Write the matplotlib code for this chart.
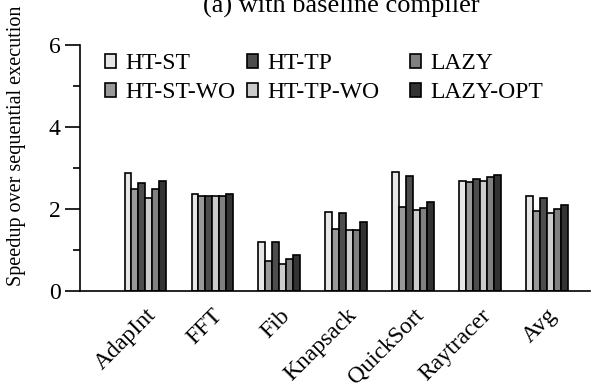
import numpy as np
import matplotlib
matplotlib.use("Agg")
import matplotlib.pyplot as plt
from matplotlib.ticker import MultipleLocator

plt.rcParams['font.family'] = ['Liberation Serif', 'DejaVu Serif']

benchmarks = ["AdapInt", "FFT", "Fib", "Knapsack", "QuickSort", "Raytracer", "Avg"]
ht_st = [2.89, 2.37, 1.19, 1.93, 2.90, 2.69, 2.33]
ht_st_wo = [2.50, 2.33, 0.72, 1.51, 2.05, 2.66, 1.96]
ht_tp = [2.63, 2.33, 1.20, 1.91, 2.80, 2.74, 2.27]
ht_tp_wo = [2.28, 2.33, 0.67, 1.50, 1.97, 2.68, 1.91]
lazy = [2.50, 2.33, 0.79, 1.50, 2.03, 2.77, 1.99]
lazy_opt = [2.68, 2.36, 0.89, 1.69, 2.17, 2.83, 2.10]

series = [
    ("HT-ST", ht_st, "#e6e6e6"),
    ("HT-ST-WO", ht_st_wo, "#999999"),
    ("HT-TP", ht_tp, "#4d4d4d"),
    ("HT-TP-WO", ht_tp_wo, "#cccccc"),
    ("LAZY", lazy, "#808080"),
    ("LAZY-OPT", lazy_opt, "#333333"),
]

fs = 17
W, H = 597, 389
fig = plt.figure(figsize=(W / 100, H / 100), dpi=100)
ax = fig.add_axes([0.134, 0.252, 0.854, 0.632])

x = np.arange(len(benchmarks))
w = 0.103
bars = []
for i, (name, vals, col) in enumerate(series):
    b = ax.bar(x + (i - 2.5) * w, vals, w, color=col, edgecolor="black",
               linewidth=1.2, label=name)
    bars.append(b)

ax.set_xlim(-0.975, 6.64)
ax.set_ylim(0, 6)
ax.yaxis.set_major_locator(MultipleLocator(2))
ax.yaxis.set_minor_locator(MultipleLocator(1))
ax.tick_params(axis="y", which="major", length=11, width=1.2, labelsize=fs, direction="out", pad=3)
ax.tick_params(axis="y", which="minor", length=5, width=1.2, direction="out")
ax.tick_params(axis="x", length=0, labelsize=fs, pad=10)
ax.set_xticks(x)
ax.set_xticklabels(benchmarks, rotation=45, ha="right", rotation_mode="anchor")
for s in ["top", "right"]:
    ax.spines[s].set_visible(False)
for s in ["left", "bottom"]:
    ax.spines[s].set_linewidth(1.2)

# one legend per column so each column can sit at its own x
col_x = [105, 247, 410]
for c in range(3):
    leg = ax.legend(bars[2 * c:2 * c + 2], [series[2 * c][0], series[2 * c + 1][0]],
                    loc="upper left", bbox_to_anchor=(col_x[c] / W, 1 - 53 / H),
                    bbox_transform=fig.transFigure, frameon=False, fontsize=fs,
                    borderpad=0, borderaxespad=0, handlelength=0.45, handleheight=0.55,
                    handletextpad=0.4, labelspacing=0.36)
    if c < 2:
        ax.add_artist(leg)

fig.text(341 / W, 1 - 13 / H, "(a) with baseline compiler", ha="center", va="baseline", fontsize=19)
fig.text(0.028, 0.266, "Speedup over sequential execution", rotation=90,
         ha="center", va="bottom", fontsize=14.5)

fig.savefig("out.png", dpi=100)
